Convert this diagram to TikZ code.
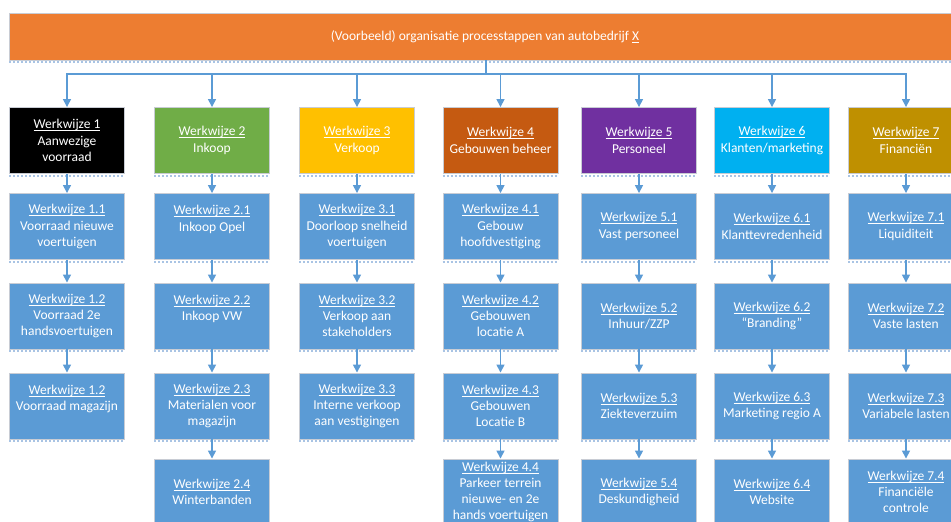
\documentclass[tikz,border=0pt]{standalone}
\usepackage{fontspec}
\setmainfont{Carlito}
\usetikzlibrary{arrows.meta}
\definecolor{conn}{HTML}{5B9BD5}
\definecolor{subfill}{HTML}{5B9BD5}
\definecolor{titlefill}{HTML}{ED7D31}
\definecolor{cgreen}{HTML}{70AD47}
\definecolor{cgold}{HTML}{FFC000}
\definecolor{cbrown}{HTML}{C55A11}
\definecolor{cpurple}{HTML}{7030A0}
\definecolor{ccyan}{HTML}{00B0F0}
\definecolor{cmustard}{HTML}{BF9000}
\definecolor{boxedge}{HTML}{C8CCD4}
\definecolor{shadowc}{HTML}{A9C4E4}
\tikzset{
  box/.style={draw=boxedge, line width=0.9pt, minimum width=115pt, minimum height=66pt,
    inner sep=0pt, align=center, text=white, font=\fontsize{13.5}{16.3}\selectfont},
  subbox/.style={box, fill=subfill},
  titlebar/.style={box, fill=titlefill, minimum width=951pt, minimum height=47pt},
  connline/.style={draw=conn, line width=1.5pt},
  connarrow/.style={connline, -{Triangle[width=8pt,length=8pt]}},
  shadowline/.style={draw=shadowc, line width=2pt, dotted}
}
\newsavebox{\ulbox}
\newcommand{\myul}[1]{\sbox{\ulbox}{#1}\rlap{\rule[-2.2pt]{\wd\ulbox}{0.7pt}}\usebox{\ulbox}}
\newcommand{\ww}[1]{\myul{Werkwijze #1}}
\begin{document}
\begin{tikzpicture}[x=1pt,y=-1pt]
\useasboundingbox (0,0) rectangle (951,522);
\clip (0,0) rectangle (951,522);
\fill[white] (0,0) rectangle (951,522);

% title
\node[titlebar] (title) at (485,36.5) {(Voorbeeld) organisatie processtappen van autobedrijf \myul{X}};

% level 1
\node[box, fill=black]    (c1) at (67,140.5)  {\ww{1}\\Aanwezige\\voorraad};
\node[box, fill=cgreen]   (c2) at (212,140.5) {\ww{2}\\Inkoop};
\node[box, fill=cgold]    (c3) at (357,140.5) {\ww{3}\\Verkoop};
\node[box, fill=cbrown]   (c4) at (500.5,140.5) {\ww{4}\\Gebouwen beheer};
\node[box, fill=cpurple]  (c5) at (639,140.5) {\ww{5}\\Personeel};
\node[box, fill=ccyan]    (c6) at (772,140.5) {\ww{6}\\Klanten/marketing};
\node[box, fill=cmustard] (c7) at (906,140.5) {\ww{7}\\Financiën};

% column 1
\node[subbox] (r11) at (67,226.5) {\ww{1.1}\\Voorraad nieuwe\\voertuigen};
\node[subbox] (r12) at (67,316)   {\ww{1.2}\\Voorraad 2e\\handsvoertuigen};
\node[subbox] (r13) at (67,406)   {\ww{1.2}\\Voorraad magazijn\\~};
% column 2
\node[subbox] (r21) at (212,226.5) {\ww{2.1}\\Inkoop Opel\\~};
\node[subbox] (r22) at (212,316)   {\ww{2.2}\\Inkoop VW\\~};
\node[subbox] (r23) at (212,406)   {\ww{2.3}\\Materialen voor\\magazijn};
\node[subbox] (r24) at (212,492)   {\ww{2.4}\\Winterbanden};
% column 3
\node[subbox] (r31) at (357,226.5) {\ww{3.1}\\Doorloop snelheid\\voertuigen};
\node[subbox] (r32) at (357,316)   {\ww{3.2}\\Verkoop aan\\stakeholders};
\node[subbox] (r33) at (357,406)   {\ww{3.3}\\Interne verkoop\\aan vestigingen};
% column 4
\node[subbox] (r41) at (500.5,226.5) {\ww{4.1}\\Gebouw\\hoofdvestiging};
\node[subbox] (r42) at (500.5,316)   {\ww{4.2}\\Gebouwen\\locatie A};
\node[subbox] (r43) at (500.5,406)   {\ww{4.3}\\Gebouwen\\Locatie B};
\node[subbox] (r44) at (500.5,492)   {\ww{4.4}\\Parkeer terrein\\nieuwe- en 2e\\hands voertuigen};
% column 5
\node[subbox] (r51) at (639,226.5) {\ww{5.1}\\Vast personeel};
\node[subbox] (r52) at (639,316)   {\ww{5.2}\\Inhuur/ZZP};
\node[subbox] (r53) at (639,406)   {\ww{5.3}\\Ziekteverzuim};
\node[subbox] (r54) at (639,492)   {\ww{5.4}\\Deskundigheid};
% column 6
\node[subbox] (r61) at (772,226.5) {\ww{6.1}\\Klanttevredenheid};
\node[subbox] (r62) at (772,316)   {\ww{6.2}\\“Branding”};
\node[subbox] (r63) at (772,406)   {\ww{6.3}\\Marketing regio A};
\node[subbox] (r64) at (772,492)   {\ww{6.4}\\Website};
% column 7
\node[subbox] (r71) at (906,226.5) {\ww{7.1}\\Liquiditeit};
\node[subbox] (r72) at (906,316)   {\ww{7.2}\\Vaste lasten};
\node[subbox] (r73) at (906,406)   {\ww{7.3}\\Variabele lasten};
\node[subbox] (r74) at (906,492)   {\ww{7.4}\\Financiële\\controle};

% dotted shadows under boxes
\foreach \n in {title,c1,c2,c3,c4,c5,c6,c7,r11,r12,r13,r21,r22,r23,r31,r32,r33,r41,r42,r43,r51,r52,r53,r61,r62,r63,r71,r72,r73}
  \draw[shadowline] ([yshift=-2pt]\n.south west) -- ([yshift=-2pt]\n.south east);

% connectors from title
\coordinate (hub) at (486,74);
\draw[connline] (title.south -| hub) -- (hub);
\foreach \n in {c1,c2,c3,c4,c5,c6,c7}
  \draw[connarrow] (hub) -| (\n.north);

% vertical chains
\draw[connarrow] (c1) -- (r11); \draw[connarrow] (r11) -- (r12); \draw[connarrow] (r12) -- (r13);
\draw[connarrow] (c2) -- (r21); \draw[connarrow] (r21) -- (r22); \draw[connarrow] (r22) -- (r23); \draw[connarrow] (r23) -- (r24);
\draw[connarrow] (c3) -- (r31); \draw[connarrow] (r31) -- (r32); \draw[connarrow] (r32) -- (r33);
\draw[connarrow] (c4) -- (r41); \draw[connarrow] (r41) -- (r42); \draw[connarrow] (r42) -- (r43); \draw[connarrow] (r43) -- (r44);
\draw[connarrow] (c5) -- (r51); \draw[connarrow] (r51) -- (r52); \draw[connarrow] (r52) -- (r53); \draw[connarrow] (r53) -- (r54);
\draw[connarrow] (c6) -- (r61); \draw[connarrow] (r61) -- (r62); \draw[connarrow] (r62) -- (r63); \draw[connarrow] (r63) -- (r64);
\draw[connarrow] (c7) -- (r71); \draw[connarrow] (r71) -- (r72); \draw[connarrow] (r72) -- (r73); \draw[connarrow] (r73) -- (r74);
\end{tikzpicture}
\end{document}
